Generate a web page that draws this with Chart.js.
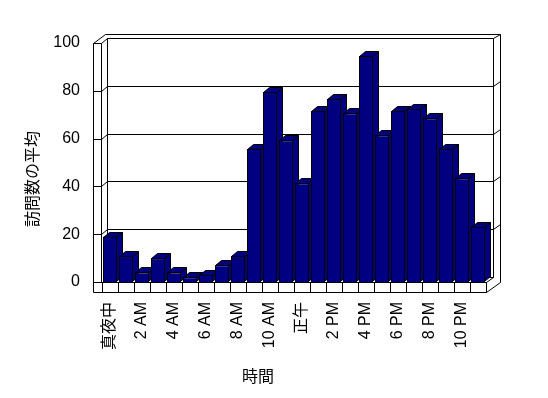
<!DOCTYPE html>
<html>
<head>
<meta charset="utf-8">
<script src="https://cdn.jsdelivr.net/npm/chart.js@4"></script>
<style>
  html, body { margin: 0; padding: 0; background: #fff; }
</style>
</head>
<body>
<canvas id="visitChart" width="548" height="398"></canvas>
<script>
const hourLabels = ['真夜中', '1 AM', '2 AM', '3 AM', '4 AM', '5 AM', '6 AM', '7 AM', '8 AM', '9 AM', '10 AM', '11 AM',
  '正午', '1 PM', '2 PM', '3 PM', '4 PM', '5 PM', '6 PM', '7 PM', '8 PM', '9 PM', '10 PM', '11 PM'];
const avgVisits = [19, 11, 4, 10, 4, 2, 3, 7, 11, 55.6, 79.5, 59.3,
  41.3, 71.5, 76.6, 70.6, 94.6, 61.4, 71.5, 72.5, 68.5, 55.6, 43.4, 23.1];
const yTickValues = [0, 20, 40, 60, 80, 100];
const xTitle = '時間';
const yTitle = '訪問数の平均';

const NAVY = '#000080';
const DX = 6, DY = 5;          // depth of bars / floor
const px = v => Math.round(v) + 0.5;

// back walls, floor, gridlines and the side/top faces of the bars
const frame3d = {
  id: 'frame3d',
  beforeDatasetsDraw(chart) {
    const { ctx, chartArea: a, scales: { x, y } } = chart;
    const L = a.left, R = a.right, T = a.top, B = a.bottom;
    const slot = (R - L) / hourLabels.length;

    ctx.save();
    ctx.strokeStyle = '#000';
    ctx.lineWidth = 1;
    const line = pts => {
      ctx.beginPath();
      pts.forEach(([u, v], i) => i ? ctx.lineTo(px(u), px(v)) : ctx.moveTo(px(u), px(v)));
      ctx.stroke();
    };

    // outer box
    line([[L - 9, T], [L - 9, B + 10], [R, B + 10], [R + 14, B], [R + 14, T - 9], [L + 3, T - 9], [L - 9, T]]);
    // left wall + back wall inner edges
    line([[L - 9, T], [L - 1, T], [L - 1, B]]);
    line([[L - 1, T], [L + DX - 1, T - DY], [R + DX + 1, T - DY], [R + 14, T - 9]]);
    line([[L + DX - 1, T - DY], [L + DX - 1, B - DY], [R + DX + 1, B - DY], [R + DX + 1, T - DY]]);
    // floor
    line([[L - 9, B], [R, B], [R + DX + 1, B - DY]]);
    for (let i = 0; i <= hourLabels.length; i++) {
      line([[L + i * slot, B], [L + i * slot, B + 10]]);
    }
    // gridlines on the walls
    yTickValues.slice(1, -1).forEach(v => {
      const gy = y.getPixelForValue(v);
      line([[L - 9, gy], [L - 1, gy], [L + DX - 1, gy - DY], [R + DX + 1, gy - DY], [R + 14, gy - 10]]);
    });

    // bar depth faces
    const meta = chart.getDatasetMeta(0);
    meta.data.forEach(bar => {
      const { x: cx, y: top, base, width } = bar.getProps(['x', 'y', 'base', 'width'], true);
      const x0 = Math.round(cx - width / 2), x1 = Math.round(cx + width / 2) - 1;
      const t = Math.round(top), b = Math.round(base) - 1;
      ctx.fillStyle = NAVY;
      ctx.beginPath();
      ctx.moveTo(x1 + 0.5, t + 0.5);
      ctx.lineTo(x1 + DX + 0.5, t - DY + 0.5);
      ctx.lineTo(x1 + DX + 0.5, b - DY + 0.5);
      ctx.lineTo(x1 + 0.5, b + 0.5);
      ctx.closePath();
      ctx.fill();
      ctx.stroke();
      ctx.beginPath();
      ctx.moveTo(x0 + 0.5, t + 0.5);
      ctx.lineTo(x0 + DX + 0.5, t - DY + 0.5);
      ctx.lineTo(x1 + DX + 0.5, t - DY + 0.5);
      ctx.lineTo(x1 + 0.5, t + 0.5);
      ctx.closePath();
      ctx.fill();
      ctx.stroke();
    });
    ctx.restore();
  },
  afterDraw(chart) {
    const ctx = chart.ctx;
    ctx.save();
    ctx.fillStyle = '#000';
    ctx.font = "16px 'Noto Sans CJK JP', sans-serif";
    ctx.textAlign = 'center';
    ctx.textBaseline = 'middle';
    ctx.fillText(xTitle, 258, 376);
    ctx.translate(32, 179);
    ctx.rotate(-Math.PI / 2);
    ctx.fillText(yTitle, 0, 0);
    ctx.restore();
  }
};

Chart.defaults.font.family = "'Liberation Sans', 'Noto Sans CJK JP', sans-serif";
Chart.defaults.font.size = 16;
Chart.defaults.color = '#000';

const ctx = document.getElementById('visitChart').getContext('2d');
const visitChart = new Chart(ctx, {
  type: 'bar',
  data: {
    labels: hourLabels,
    datasets: [{
      label: yTitle,
      data: avgVisits,
      backgroundColor: NAVY,
      borderColor: '#000',
      borderWidth: 1,
      categoryPercentage: 1,
      barPercentage: 0.875
    }]
  },
  options: {
    responsive: false,
    animation: false,
    layout: { padding: { left: 0, right: 62, top: 43, bottom: 0 } },
    plugins: {
      legend: { display: false },
      tooltip: { enabled: false }
    },
    scales: {
      x: {
        grid: { display: false, drawTicks: false },
        border: { display: false },
        ticks: {
          autoSkip: false,
          minRotation: 90,
          maxRotation: 90,
          padding: 20,
          callback: (val, i) => i % 2 === 0 ? hourLabels[i] : ''
        },
        afterFit: scale => { scale.height = 116; }
      },
      y: {
        min: 0,
        max: 100,
        grid: { display: false, drawTicks: false },
        border: { display: false },
        ticks: { stepSize: 20, padding: 22 },
        afterFit: scale => { scale.width = 102; }
      }
    }
  },
  plugins: [frame3d]
});
</script>
</body>
</html>
